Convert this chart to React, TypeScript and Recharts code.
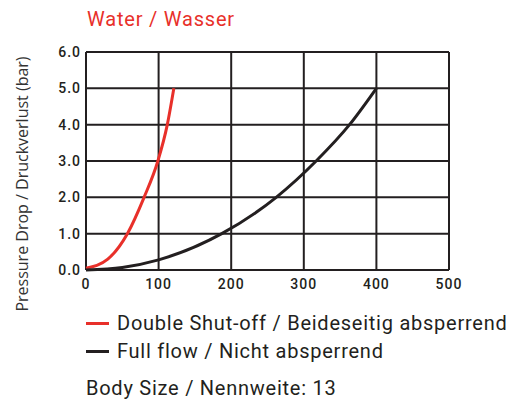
import { LineChart, Line, XAxis, YAxis, CartesianGrid } from 'recharts';

const flowTicks = [0, 100, 200, 300, 400, 500];
const pressureTicks = [0, 1, 2, 3, 4, 5, 6];

// Double shut-off (red) curve, flow vs pressure drop
const doubleFlow = [0, 30, 57, 80, 99, 112, 121];
const doublePressure = [0.05, 0.3, 1.0, 2.0, 3.0, 4.0, 5.0];

// Full flow (black) curve
const fullFlow = [0, 50, 100, 187, 262, 317, 363, 400];
const fullPressure = [0, 0.07, 0.28, 1.0, 2.0, 3.0, 4.0, 5.0];

const seriesNames = ['Double Shut-off / Beideseitig absperrend', 'Full flow / Nicht absperrend'];

const RED = '#e8302a';
const DARK = '#231f20';
const FONT = 'Roboto, "DejaVu Sans", sans-serif';

const doubleData = doubleFlow.map((x, i) => ({ flow: x, pressure: doublePressure[i] }));
const fullData = fullFlow.map((x, i) => ({ flow: x, pressure: fullPressure[i] }));
const seriesColors = [RED, DARK];

const tickStyle = { fill: DARK, fontSize: 14, fontFamily: FONT, fontWeight: 500, letterSpacing: 1 };

export default function App() {
  return (
    <div style={{ position: 'absolute', left: 0, top: 0, width: 524, height: 401, background: '#fff' }}>
      <div
        style={{
          position: 'absolute',
          left: 87,
          top: 7,
          fontFamily: FONT,
          fontSize: 20,
          letterSpacing: 0.8,
          color: RED,
        }}
      >
        Water / Wasser
      </div>
      <div
        style={{
          position: 'absolute',
          left: 22,
          top: 184,
          transform: 'translate(-50%, -50%) rotate(-90deg)',
          whiteSpace: 'nowrap',
          fontFamily: '"Open Sans", sans-serif',
          fontSize: 16,
          color: '#333',
        }}
      >
        Pressure Drop / Druckverlust (bar)
      </div>
      <LineChart width={524} height={401} margin={{ top: 52, right: 75, left: 46, bottom: 101 }}>
        <CartesianGrid stroke={DARK} strokeWidth={2} />
        <XAxis
          type="number"
          dataKey="flow"
          domain={[0, 500]}
          ticks={flowTicks}
          height={30}
          axisLine={false}
          tickLine={false}
          tickSize={0}
          tickMargin={9}
          tick={tickStyle}
          allowDuplicatedCategory={false}
        />
        <YAxis
          type="number"
          dataKey="pressure"
          domain={[0, 6]}
          ticks={pressureTicks}
          width={40}
          axisLine={false}
          tickLine={false}
          tickSize={0}
          tickMargin={5}
          tickFormatter={(v: number) => v.toFixed(1)}
          tick={tickStyle}
        />
        <Line
          data={doubleData}
          dataKey="pressure"
          name={seriesNames[0]}
          type="monotone"
          stroke={RED}
          strokeWidth={3}
          dot={false}
          isAnimationActive={false}
        />
        <Line
          data={fullData}
          dataKey="pressure"
          name={seriesNames[1]}
          type="monotone"
          stroke={DARK}
          strokeWidth={3}
          dot={false}
          isAnimationActive={false}
        />
      </LineChart>
      <div
        style={{
          position: 'absolute',
          left: 86,
          top: 309,
          fontFamily: FONT,
          fontSize: 20,
          letterSpacing: 0.75,
          color: DARK,
        }}
      >
        {seriesNames.map((name, i) => (
          <div key={name} style={{ display: 'flex', alignItems: 'center', height: 28 }}>
            <span style={{ width: 23, height: 3, background: seriesColors[i], marginRight: 8 }} />
            <span>{name}</span>
          </div>
        ))}
      </div>
      <div
        style={{
          position: 'absolute',
          left: 86,
          top: 376,
          fontFamily: FONT,
          fontSize: 20,
          letterSpacing: 0.75,
          color: DARK,
        }}
      >
        Body Size / Nennweite: 13
      </div>
    </div>
  );
}
